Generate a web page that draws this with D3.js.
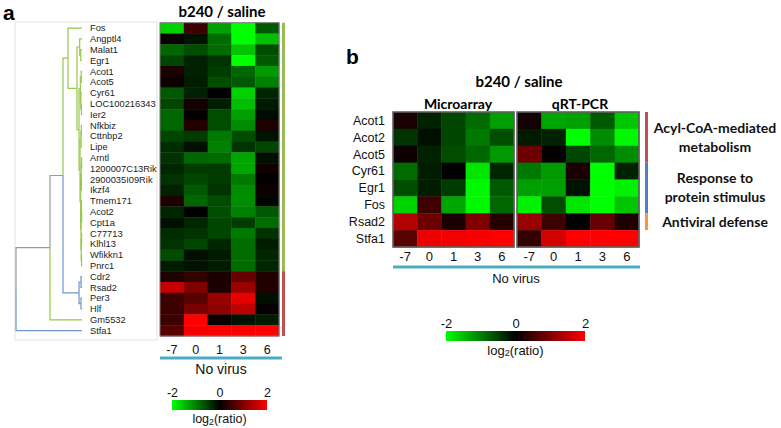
<!DOCTYPE html>
<html><head><meta charset="utf-8">
<script src="https://cdn.jsdelivr.net/npm/d3@7"></script>
<style>body{margin:0;background:#fff}svg{display:block}</style>
</head><body>
<svg id="c" width="781" height="428"></svg>
<script>
// ---------- DATA ----------
const days = ["-7","0","1","3","6"];
const genesA = ["Fos","Angptl4","Malat1","Egr1","Acot1","Acot5","Cyr61","LOC100216343","Ier2","Nfkbiz","Cttnbp2","Lipe","Arntl","1200007C13Rik","2900035I09Rik","Ikzf4","Tmem171","Acot2","Cpt1a","C77713","Klhl13","Wfikkn1","Pnrc1","Cdr2","Rsad2","Per3","Hlf","Gm5532","Stfa1"];
const valuesA = [
[-1.65,0.47,-1.25,-2,-0.7],
[0.05,-0.15,-0.85,-2,-1.5],
[-0.8,-0.6,-0.85,-1.55,-0.6],
[-0.55,-0.27,-0.4,-2,-0.7],
[0.23,-0.27,-0.47,-0.8,-1.2],
[0.12,-0.23,-0.6,-0.7,-1.0],
[-0.7,-0.27,0.0,-1.65,-0.3],
[-0.55,0.15,-0.23,-1.5,-0.2],
[-0.8,0.03,-0.6,-1.25,-0.08],
[-0.8,0.27,-0.6,-1.1,0.23],
[-0.55,-0.47,-0.95,-0.6,-0.15],
[-0.35,-0.12,-1.0,-0.4,-0.55],
[-0.4,-0.8,-0.85,-1.3,-0.12],
[-0.3,-0.47,-0.47,-1.3,0.12],
[-0.4,-0.55,-0.47,-0.95,0.04],
[-0.27,-0.7,-0.4,-1.1,0.12],
[0.23,-0.8,-0.6,-1.1,-0.04],
[-0.3,0.0,-0.6,-1.0,-0.7],
[-0.12,-0.3,-0.55,-0.47,-0.85],
[-0.35,-0.4,-0.55,-0.95,-0.4],
[-0.4,-0.55,-0.3,-0.85,-0.23],
[-0.6,-0.12,-0.2,-0.85,-0.3],
[-0.23,-0.15,-0.23,-0.85,-0.3],
[0.23,0.4,0.2,0.8,0.27],
[1.55,1.0,0.23,1.2,0.27],
[0.47,0.7,1.2,1.8,-0.12],
[0.47,0.95,1.1,1.5,0.05],
[0.47,2.0,0.08,-0.15,-0.23],
[0.7,1.9,1.95,1.95,2.0]
];
// dendrogram (h = relative merge height), c = cluster colour key
const dendro = {h:1.0, c:"gray", ch:[
  {h:0.485, c:"gray", ch:[
    {h:0.288, c:"gray", ch:[
      {h:0.212, c:"green", ch:["Fos",
        {h:0.076, ch:[
          {h:0.035, ch:["Angptl4",{h:0.02, ch:["Malat1","Egr1"]}]},
          {h:0.045, ch:[
            {h:0.025, ch:[{h:0.012, ch:["Acot1","Acot5"]},{h:0.018, ch:["Cyr61",{h:0.008, ch:["LOC100216343","Ier2"]}]}]},
            {h:0.03, ch:[
              {h:0.015, ch:[{h:0.01, ch:["Nfkbiz","Cttnbp2"]},"Lipe"]},
              {h:0.02, ch:[
                {h:0.012, ch:[{h:0.006, ch:["Arntl","1200007C13Rik"]},{h:0.008, ch:["2900035I09Rik","Ikzf4"]}]},
                {h:0.015, ch:[{h:0.01, ch:["Tmem171",{h:0.005, ch:["Acot2","Cpt1a"]}]},
                              {h:0.012, ch:[{h:0.006, ch:["C77713","Klhl13"]},{h:0.007, ch:["Wfikkn1","Pnrc1"]}]}]}
              ]}
            ]}
          ]}
        ]}
      ]},
      {h:0.045, c:"blue", ch:[{h:0.015, ch:["Cdr2","Rsad2"]},{h:0.015, ch:["Per3","Hlf"]}]}
    ]},
    {leaf:"Gm5532", c:"green"}
  ]},
  {leaf:"Stfa1", c:"blue"}
]};
const groupsA = [{from:"Fos", to:"Pnrc1", key:"green"},{from:"Cdr2", to:"Stfa1", key:"red"}];

const genesB = ["Acot1","Acot2","Acot5","Cyr61","Egr1","Fos","Rsad2","Stfa1"];
const microarray = [
[0.2,-0.27,-0.55,-0.85,-1.25],
[-0.4,-0.12,-0.55,-0.95,-0.6],
[0.1,-0.27,-0.6,-0.8,-1.2],
[-0.85,-0.23,0.0,-1.8,-0.3],
[-0.6,-0.23,-0.47,-1.95,-0.7],
[-1.65,0.47,-1.3,-1.95,-0.8],
[1.4,0.85,0.2,1.0,0.3],
[0.7,1.85,1.9,1.95,2.0]
];
const qpcr = [
[0.15,-1.3,-1.25,-0.7,-1.55],
[-0.2,-0.27,-2,-1.1,-1.95],
[0.85,0.04,-0.55,-0.8,-1.1],
[-0.95,-1.2,0.2,-2,-0.27],
[-1.25,-1.25,-0.15,-2,-1.9],
[-1.9,-0.6,-1.8,-2,-1.55],
[1.2,0.47,0.0,0.8,0.23],
[0.4,1.65,2,2,2]
];
const groupsB = [
 {from:"Acot1", to:"Acot5", key:"red", label:["Acyl-CoA-mediated","metabolism"]},
 {from:"Cyr61", to:"Fos", key:"blue", label:["Response to","protein stimulus"]},
 {from:"Rsad2", to:"Rsad2", key:"orange", label:["Antiviral defense"]}
];
const legendTicks = [-2,0,2];

// ---------- STYLE ----------
const SANS = "'Liberation Sans', Arial, sans-serif";
const CAL = "Lato, 'Open Sans', sans-serif";
const dendroColor = {gray:"#9a9a9a", green:"#98c84a", blue:"#6e97cb"};
const barColor = {green:"#9bbb59", red:"#c0504d", blue:"#4f81bd", orange:"#f79646"};
const lineBlue = "#4bacc6";
const color = d3.scaleLinear().domain([-2,0,2]).range(["#00ff00","#000000","#ff0000"]).clamp(true);

const svg = d3.select("#c");
svg.append("rect").attr("width",781).attr("height",428).attr("fill","#fff");
const defs = svg.append("defs");
const grad = defs.append("linearGradient").attr("id","lg");
legendTicks.forEach((t,i)=>grad.append("stop").attr("offset",(i/(legendTicks.length-1)*100)+"%").attr("stop-color",color(t)));

// panel letters
svg.append("text").attr("x",3).attr("y",20).text("a").attr("font-family",SANS).attr("font-weight","bold").attr("font-size",21);
svg.append("text").attr("x",346).attr("y",64).text("b").attr("font-family",SANS).attr("font-weight","bold").attr("font-size",21);

// ---------- PANEL A ----------
const xA = d3.scaleBand().domain(days).range([160,279]);
const yA = d3.scaleBand().domain(genesA).range([22.7,336]);

svg.append("rect").attr("x",15).attr("y",22).attr("width",142).attr("height",318)
  .attr("fill","none").attr("stroke","#e2e2e2").attr("stroke-width",1);

// dendrogram
const xD = d3.scaleLinear().domain([0,1]).range([82,16]);
function layout(n, col){
  if (typeof n === "string") n = {leaf:n};
  const c = n.c || col;
  if (n.leaf) return {x:xD(0), y:yA(n.leaf)+yA.bandwidth()/2, c, kids:[]};
  const kids = n.ch.map(k=>layout(k, c));
  return {x:xD(n.h), y:d3.mean(kids,k=>k.y), c, kids};
}
const root = layout(dendro, "gray");
const links = [];
(function walk(n){ n.kids.forEach(k=>{links.push({p:n,k}); walk(k);}); })(root);
svg.append("g").selectAll("path").data(links).join("path")
  .attr("d",d=>`M${d.p.x},${d.p.y}V${d.k.y}H${d.k.x}`)
  .attr("fill","none").attr("stroke",d=>dendroColor[d.k.c]).attr("stroke-width",1.2);

svg.append("g").selectAll("text").data(genesA).join("text")
  .attr("x",90).attr("y",g=>yA(g)+yA.bandwidth()/2).attr("dy","0.35em")
  .attr("font-family",SANS).attr("font-size",9.3).attr("fill","#222").text(g=>g);

// heatmap A
const cellsA = valuesA.flatMap((r,i)=>r.map((v,j)=>({g:genesA[i],d:days[j],v})));
svg.append("g").selectAll("rect").data(cellsA).join("rect")
  .attr("x",c=>xA(c.d)).attr("y",c=>yA(c.g)).attr("width",xA.bandwidth()+0.4).attr("height",yA.bandwidth()+0.4)
  .attr("fill",c=>color(c.v));
svg.append("rect").attr("x",160).attr("y",22.7).attr("width",119).attr("height",313.3)
  .attr("fill","none").attr("stroke","#777").attr("stroke-width",1);

svg.append("g").selectAll("rect").data(groupsA).join("rect")
  .attr("x",282).attr("width",3).attr("y",d=>yA(d.from)).attr("height",d=>yA(d.to)+yA.bandwidth()-yA(d.from))
  .attr("fill",d=>barColor[d.key]);

svg.append("text").attr("x",222).attr("y",11).attr("text-anchor","middle").attr("dominant-baseline","central")
  .attr("font-family",CAL).attr("font-weight","bold").attr("font-size",15).text("b240 / saline");

function styleAxis(g, size){
  g.select(".domain").remove();
  g.selectAll("text").attr("font-family",SANS).attr("font-size",size).attr("fill","#111");
}
svg.append("g").attr("transform","translate(0,336)")
  .call(d3.axisBottom(xA).tickSize(0).tickPadding(9)).call(g=>styleAxis(g,12.5));
svg.append("line").attr("x1",160).attr("x2",282).attr("y1",358).attr("y2",358).attr("stroke",lineBlue).attr("stroke-width",3);
svg.append("text").attr("x",221).attr("y",369).attr("text-anchor","middle").attr("dominant-baseline","central")
  .attr("font-family",SANS).attr("font-size",14).attr("fill","#111").text("No virus");

function legend(x0,x1,yBar,size){
  const s = d3.scaleLinear().domain([-2,2]).range([x0,x1]);
  svg.append("rect").attr("x",x0).attr("y",yBar).attr("width",x1-x0).attr("height",10).attr("fill","url(#lg)");
  svg.append("g").attr("transform",`translate(0,${yBar})`)
    .call(d3.axisTop(s).tickValues(legendTicks).tickFormat(d=>String(d)).tickSize(0).tickPadding(3))
    .call(g=>styleAxis(g,size));
  const t = svg.append("text").attr("x",(x0+x1)/2).attr("y",yBar+19).attr("text-anchor","middle").attr("dominant-baseline","central")
    .attr("font-family",SANS).attr("font-size",size).attr("fill","#111");
  t.append("tspan").text("log");
  t.append("tspan").attr("font-size",size*0.7).attr("dy","0.35em").text("2");
  t.append("tspan").attr("dy","-0.25em").text("(ratio)");
}
legend(172,267,400,12.5);

// ---------- PANEL B ----------
const xM = d3.scaleBand().domain(days).range([393,514]);
const xQ = d3.scaleBand().domain(days).range([517,639]);
const yB = d3.scaleBand().domain(genesB).range([112,247]);

function heat(data, xs){
  const cells = data.flatMap((r,i)=>r.map((v,j)=>({g:genesB[i],d:days[j],v})));
  svg.append("g").selectAll("rect").data(cells).join("rect")
    .attr("x",c=>xs(c.d)).attr("y",c=>yB(c.g)).attr("width",xs.bandwidth()+0.4).attr("height",yB.bandwidth()+0.4)
    .attr("fill",c=>color(c.v));
  const [a,b] = xs.range();
  svg.append("rect").attr("x",a).attr("y",112).attr("width",b-a).attr("height",135)
    .attr("fill","none").attr("stroke","#606060").attr("stroke-width",1.6);
  svg.append("g").attr("transform","translate(0,247)")
    .call(d3.axisBottom(xs).tickSize(0).tickPadding(5)).call(g=>styleAxis(g,13));
}
heat(microarray,xM);
heat(qpcr,xQ);

svg.append("g").selectAll("text").data(genesB).join("text")
  .attr("x",385).attr("y",g=>yB(g)+yB.bandwidth()/2).attr("dy","0.35em").attr("text-anchor","end")
  .attr("font-family",SANS).attr("font-size",12.5).attr("fill","#111").text(g=>g);

svg.append("text").attr("x",519).attr("y",81).attr("text-anchor","middle").attr("dominant-baseline","central")
  .attr("font-family",CAL).attr("font-weight","bold").attr("font-size",15).text("b240 / saline");
svg.append("text").attr("x",458).attr("y",103).attr("text-anchor","middle").attr("dominant-baseline","central")
  .attr("font-family",CAL).attr("font-weight","bold").attr("font-size",14).text("Microarray");
svg.append("text").attr("x",580).attr("y",103).attr("text-anchor","middle").attr("dominant-baseline","central")
  .attr("font-family",CAL).attr("font-weight","bold").attr("font-size",14).text("qRT-PCR");

svg.append("line").attr("x1",393).attr("x2",640).attr("y1",267).attr("y2",267).attr("stroke",lineBlue).attr("stroke-width",3);
svg.append("text").attr("x",516).attr("y",278).attr("text-anchor","middle").attr("dominant-baseline","central")
  .attr("font-family",SANS).attr("font-size",13).attr("fill","#111").text("No virus");

svg.append("g").selectAll("rect").data(groupsB).join("rect")
  .attr("x",645).attr("width",3).attr("y",d=>yB(d.from)).attr("height",d=>yB(d.to)+yB.bandwidth()-yB(d.from))
  .attr("fill",d=>barColor[d.key]);
const glab = svg.append("g").selectAll("text").data(groupsB).join("text")
  .attr("x",715).attr("text-anchor","middle")
  .attr("y",d=>(yB(d.from)+yB(d.to)+yB.bandwidth())/2)
  .attr("font-family",CAL).attr("font-weight","bold").attr("font-size",14).attr("fill","#111");
glab.selectAll("tspan").data(d=>d.label.map((l,i)=>({l,i,n:d.label.length}))).join("tspan")
  .attr("x",715).attr("dy",t=>t.i===0 ? ((-(t.n-1)/2*19)/14+0.35)+"em" : (19/14)+"em").text(t=>t.l);

legend(446,585,331,13);
</script>
</body></html>
